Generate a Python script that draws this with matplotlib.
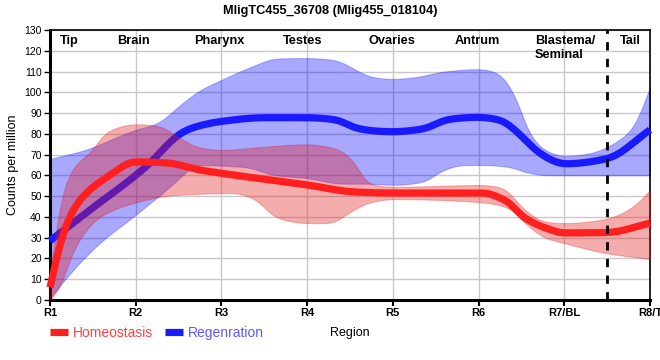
import numpy as np
import matplotlib
matplotlib.use("Agg")
import matplotlib.pyplot as plt

plt.rcParams['font.family'] = ['Liberation Sans', 'DejaVu Sans']

title = "MligTC455_36708 (Mlig455_018104)"
tick_labels = ["R1", "R2", "R3", "R4", "R5", "R6", "R7/BL", "R8/T"]
region_names = ["Tip", "Brain", "Pharynx", "Testes", "Ovaries", "Antrum", "Blastema/\nSeminal", "Tail"]
region_label_x = [0.23, 0.97, 1.98, 2.95, 3.99, 4.98, 5.66, 6.77]

# Regeneration (blue)
reg_mean_x = [0, 0.47, 1.0, 1.17, 1.4, 1.55, 1.75, 2.0, 2.5, 3.0, 3.35, 3.55, 3.75, 4.0, 4.35, 4.65, 5.0, 5.25, 5.5, 5.7, 6.0, 6.5, 7.0]
reg_mean_y = [28.5, 43.5, 60, 66, 76, 81, 84, 86, 87.8, 87.8, 86.7, 83, 81.5, 81, 82.3, 87, 88, 86.7, 79, 71, 65.5, 68, 82]
reg_hi_x = [0, 0.39, 1.0, 1.25, 1.52, 1.75, 2.0, 2.39, 2.63, 3.0, 3.33, 3.56, 3.75, 4.0, 4.28, 4.59, 5.0, 5.2, 5.31, 5.46, 5.58, 5.78, 6.0, 6.32, 6.5, 6.8, 7.0]
reg_hi_y = [68, 72, 82, 85, 94, 101, 106, 113, 116.3, 116.5, 115.5, 111, 107.4, 106.4, 107.4, 110, 111.2, 109.8, 106, 95, 81, 72, 69.3, 70.8, 73.7, 82.8, 102.6]
reg_lo_x = [0, 0.27, 0.58, 1.0, 1.44, 1.6, 1.69, 2.28, 2.63, 3.0, 3.4, 3.7, 4.0, 4.35, 4.59, 4.82, 5.05, 5.37, 5.54, 5.8, 6.0, 7.0]
reg_lo_y = [1, 14.4, 27.4, 41, 56, 62, 65, 64, 60, 58.7, 56, 56, 55.4, 56.8, 62.6, 65, 65, 64, 61.6, 60, 60, 60]

# Homeostasis (red)
hom_mean_x = [0, 0.12, 0.23, 0.39, 0.66, 1.0, 1.36, 1.75, 2.0, 3.0, 3.56, 4.0, 5.05, 5.31, 5.54, 5.78, 6.0, 6.5, 7.0]
hom_mean_y = [6, 27, 40, 50, 59, 66.5, 66, 62.6, 61, 55.4, 52, 51.5, 51.5, 48, 39.5, 34.7, 32.3, 32.5, 37]
hom_hi_x = [0, 0.12, 0.27, 0.47, 0.66, 1.0, 1.25, 1.52, 1.71, 2.0, 2.47, 3.0, 3.33, 3.56, 3.68, 3.8, 4.0, 5.05, 5.28, 5.54, 5.78, 6.0, 6.48, 6.8, 7.0]
hom_hi_y = [12, 48, 64, 71, 81, 84.7, 84, 78, 73.7, 72.2, 73.7, 75, 73, 66, 57, 55.2, 54.5, 55.4, 54, 43.3, 37.6, 37, 39, 44.8, 53]
hom_lo_x = [0, 0.12, 0.27, 0.58, 1.0, 1.44, 2.14, 2.37, 2.65, 3.0, 3.27, 3.5, 3.73, 4.0, 5.05, 5.37, 5.54, 5.78, 6.0, 6.48, 7.0]
hom_lo_y = [0, 6, 24, 40, 47, 50.5, 51.5, 49, 39.5, 37, 37, 42.4, 47, 48.6, 47, 44, 37, 29.8, 27.4, 22.6, 19.7]


def pchip(x, y, xs):
    x = np.asarray(x, float); y = np.asarray(y, float)
    h = np.diff(x); d = np.diff(y) / h
    n = len(x); m = np.zeros(n)
    for k in range(1, n - 1):
        if d[k - 1] * d[k] > 0:
            w1 = 2 * h[k] + h[k - 1]; w2 = h[k] + 2 * h[k - 1]
            m[k] = (w1 + w2) / (w1 / d[k - 1] + w2 / d[k])
    m[0] = d[0]; m[-1] = d[-1]
    idx = np.clip(np.searchsorted(x, xs) - 1, 0, n - 2)
    t = (xs - x[idx]) / h[idx]
    h00 = 2 * t**3 - 3 * t**2 + 1; h10 = t**3 - 2 * t**2 + t
    h01 = -2 * t**3 + 3 * t**2; h11 = t**3 - t**2
    return h00 * y[idx] + h10 * h[idx] * m[idx] + h01 * y[idx + 1] + h11 * h[idx] * m[idx + 1]


def smooth_curve(x, y, xs, sigma=6):
    ys = pchip(x, y, xs)
    pad = 4 * sigma
    left = ys[0] + (ys[1] - ys[0]) * np.arange(-pad, 0)
    right = ys[-1] + (ys[-1] - ys[-2]) * np.arange(1, pad + 1)
    ext = np.concatenate([left, ys, right])
    k = np.arange(-pad, pad + 1)
    g = np.exp(-0.5 * (k / sigma) ** 2); g /= g.sum()
    return np.convolve(ext, g, mode='same')[pad:-pad]


xs = np.linspace(0, 7, 701)
fig = plt.figure(figsize=(6.6, 3.6), dpi=100)
ax = fig.add_axes([50 / 660, 60 / 360, 600 / 660, 270 / 360])

ax.fill_between(xs, smooth_curve(reg_lo_x, reg_lo_y, xs), smooth_curve(reg_hi_x, reg_hi_y, xs),
                facecolor=(0, 0, 1, 0.34), edgecolor=(0, 0, 1, 0.25), linewidth=0.8, zorder=2)
lb, = ax.plot(xs, smooth_curve(reg_mean_x, reg_mean_y, xs), color=(0.1, 0.1, 1.0), lw=5.2,
              solid_capstyle='butt', zorder=3, label="Regenration", clip_on=False)
ax.fill_between(xs, smooth_curve(hom_lo_x, hom_lo_y, xs), smooth_curve(hom_hi_x, hom_hi_y, xs),
                facecolor=(0.9, 0.1, 0.1, 0.36), edgecolor=(0.9, 0, 0, 0.25), linewidth=0.8, zorder=4)
lr, = ax.plot(xs, smooth_curve(hom_mean_x, hom_mean_y, xs, sigma=3), color=(1.0, 0.12, 0.12), lw=5.2,
              solid_capstyle='butt', zorder=5, label="Homeostasis", clip_on=False)

ax.axvline(6.5, color='black', lw=2, ls=(0, (3, 3)), zorder=6)

ax.set_xlim(0, 7)
ax.set_ylim(0, 130)
ax.set_xticks(range(len(tick_labels)))
ax.set_xticklabels(tick_labels, fontsize=8, fontweight='bold')
ax.set_yticks(np.arange(0, 131, 10))
ax.tick_params(axis='y', labelsize=7.5, length=4, width=1, pad=2)
ax.tick_params(axis='x', length=4, width=1.5, pad=2)
ax.grid(True, color='#c8c8c8', lw=1, zorder=0)
ax.set_axisbelow(True)
for s in ['left', 'bottom']:
    ax.spines[s].set_linewidth(2.2)
for s in ['top', 'right']:
    ax.spines[s].set_linewidth(1.2)

for name, xp in zip(region_names, region_label_x):
    ha = 'left' if name.startswith("Blastema") else 'center'
    ax.text(xp, 127.8, name, ha=ha, va='top', fontsize=9.2, fontweight='bold', zorder=7,
            linespacing=1.25)

ax.set_ylabel("Counts per million", fontsize=9, labelpad=4)
ax.set_xlabel("Region", fontsize=9, labelpad=6)
fig.text(0.5, 0.985, title, ha='center', va='top', fontsize=9.2, fontweight='bold')

ax.legend(handles=[lr, lb], loc='upper left', bbox_to_anchor=(-0.01, -0.075), ncol=2,
          frameon=False, fontsize=10, handlelength=1.3, handletextpad=0.4, columnspacing=0.8,
          labelcolor=['#ff4040', '#5a5aff'], borderaxespad=0)

fig.savefig("out.png", dpi=100)
